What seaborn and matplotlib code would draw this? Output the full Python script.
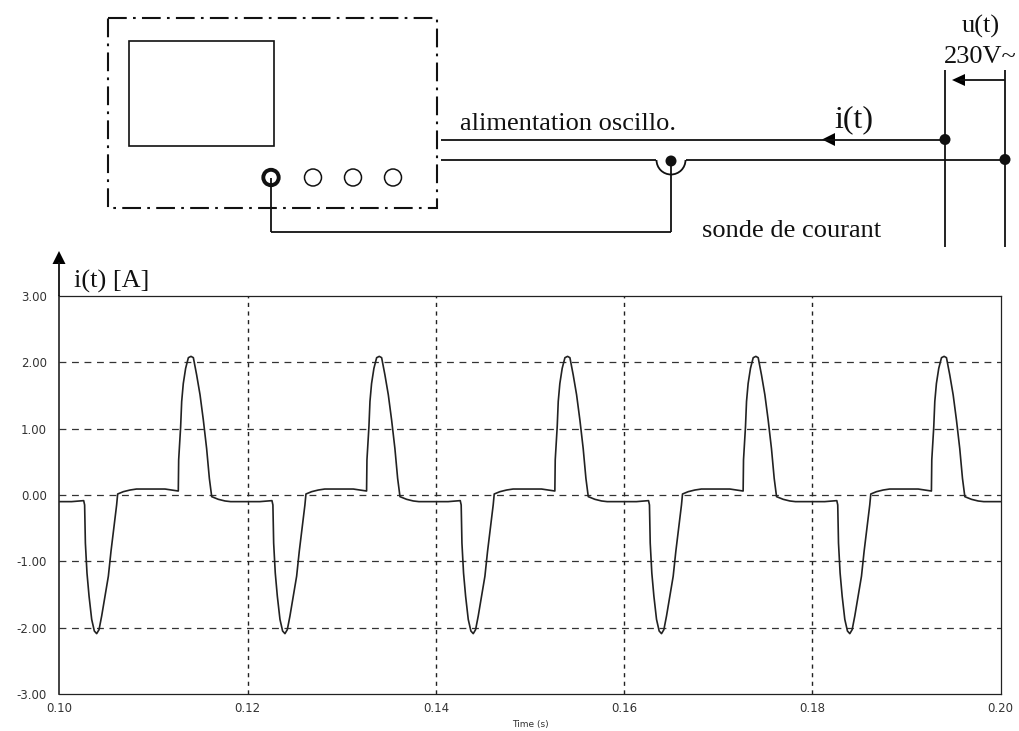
import numpy as np
import pandas as pd
import matplotlib
matplotlib.use("Agg")
import matplotlib.pyplot as plt
from matplotlib.patches import Arc, Circle, Polygon, Rectangle
import seaborn as sns

# waveform: one 20 ms period, repeated five times
period_t = [0.0000, 0.0013, 0.00259, 0.00269, 0.00277, 0.00294, 0.00316, 0.00344, 0.00372,
            0.00397, 0.00422, 0.0045, 0.00486, 0.00521, 0.00549, 0.00585, 0.00609, 0.0062,
            0.0068, 0.00751, 0.0082, 0.01123, 0.01264, 0.01268, 0.01289, 0.013, 0.01317,
            0.01342, 0.01371, 0.01399, 0.01424, 0.01459, 0.01495, 0.0153, 0.01565, 0.01594,
            0.01619, 0.01689, 0.0176, 0.0182, 0.0200]
period_i = [-0.10, -0.10, -0.085, -0.15, -0.725, -1.175, -1.525, -1.875, -2.05,
            -2.09, -2.03, -1.825, -1.525, -1.225, -0.85, -0.425, -0.15, 0.015,
            0.05, 0.075, 0.09, 0.09, 0.06, 0.53, 1.03, 1.41, 1.68,
            1.91, 2.07, 2.09, 2.07, 1.81, 1.51, 1.13, 0.70, 0.25,
            -0.025, -0.065, -0.09, -0.10, -0.10]
period_starts = [0.10, 0.12, 0.14, 0.16, 0.18]
x_ticks = [0.10, 0.12, 0.14, 0.16, 0.18, 0.20]
y_ticks = [-3.0, -2.0, -1.0, 0.0, 1.0, 2.0, 3.0]

time_s = [s + t for s in period_starts for t in period_t]
current_a = [v for _ in period_starts for v in period_i]
df = pd.DataFrame({"Time (s)": time_s, "i": current_a})

sns.set_style("white")
W, H = 1019, 731
fig = plt.figure(figsize=(W / 100, H / 100), dpi=100)
L, R, T, B = 59.3, 1000.7, 296, 694
ax = fig.add_axes([L / W, 1 - B / H, (R - L) / W, (B - T) / H])
sns.lineplot(data=df, x="Time (s)", y="i", ax=ax, color="#222222", lw=1.2,
             errorbar=None, estimator=None, sort=False, zorder=3)
ax.set_xlim(0.10, 0.20)
ax.set_ylim(-3, 3)
ax.set_xticks(x_ticks)
ax.set_yticks(y_ticks)
ax.set_xticklabels([f"{v:.2f}" for v in x_ticks], fontsize=8.5, color="#333333", family="DejaVu Sans")
ax.set_yticklabels([f"{v:.2f}" for v in y_ticks], fontsize=8.5, color="#333333", family="DejaVu Sans")
ax.tick_params(axis="x", length=0, pad=6)
ax.tick_params(axis="y", length=0, pad=9)
ax.set_xlabel("")
ax.set_ylabel("")
ax.grid(False)
for v in y_ticks[1:-1]:
    ax.axhline(v, color="#333333", lw=0.9, dashes=(5.5, 4.5), zorder=1)
for v in x_ticks[1:-1]:
    ax.axvline(v, color="#222222", lw=1.0, dashes=(3, 3.2), zorder=1)
for s in ax.spines.values():
    s.set_visible(True)
    s.set_color("#222222")
    s.set_linewidth(0.9)
ax.spines["left"].set_linewidth(1.2)

# schematic overlay in picture pixels
ov = fig.add_axes([0, 0, 1, 1], facecolor="none")
ov.set_xlim(0, W)
ov.set_ylim(H, 0)
ov.axis("off")
ink = "#111111"
ov.add_patch(Rectangle((108, 18), 329, 190, fill=False, ec=ink, lw=1.5,
                       ls=(0, (9, 3, 1.3, 3))))
ov.add_patch(Rectangle((129, 41), 145, 105, fill=False, ec=ink, lw=1.2))
ov.add_patch(Circle((271, 177.5), 7.7, fill=False, ec=ink, lw=2.8))
for cx in (313, 353, 393):
    ov.add_patch(Circle((cx, 177.5), 8.5, fill=False, ec=ink, lw=1.1))
segs = [((271, 178), (271, 231.5)), ((271, 231.5), (671, 231.5)), ((671, 231.5), (671, 161)),
        ((441, 139.5), (945, 139.5)), ((441, 159.5), (656, 159.5)), ((686, 159.5), (1005, 159.5)),
        ((945, 70), (945, 247)), ((1005, 70), (1005, 247)), ((1005, 80), (960, 80)),
        ((59, 296), (59, 262))]
for (x0, y0), (x1, y1) in segs:
    ov.plot([x0, x1], [y0, y1], color=ink, lw=1.3, solid_capstyle="butt")
ov.add_patch(Arc((671, 160), 29, 29, theta1=0, theta2=180, ec=ink, lw=1.3))
for (cx, cy) in [(671, 161), (945, 139.5), (1005, 159.5)]:
    ov.add_patch(Circle((cx, cy), 5.5, fc=ink, ec="none"))
for pts in [[(952, 80), (965, 74), (965, 86)],
            [(822, 139.5), (835, 133), (835, 146)],
            [(59, 251), (52.5, 264), (65.5, 264)]]:
    ov.add_patch(Polygon(pts, closed=True, fc="black", ec="none"))

serif = "Liberation Serif"
for x, y, s, size, ha in [(460, 130.5, "alimentation oscillo.", 19, "left"),
                          (834, 127, "i(t)", 23, "left"),
                          (981, 33, "u(t)", 19, "center"),
                          (944, 63, "230V~", 19, "left"),
                          (702, 237, "sonde de courant", 19, "left"),
                          (74, 288, "i(t) [A]", 19, "left")]:
    ov.text(x, y, s, family=serif, fontsize=size, ha=ha, va="baseline", color=ink)
ov.text(530, 724, "Time (s)", family="DejaVu Sans", fontsize=6.5, ha="center", va="center", color="#333333")

fig.savefig("out.png", dpi=100, facecolor="white")
